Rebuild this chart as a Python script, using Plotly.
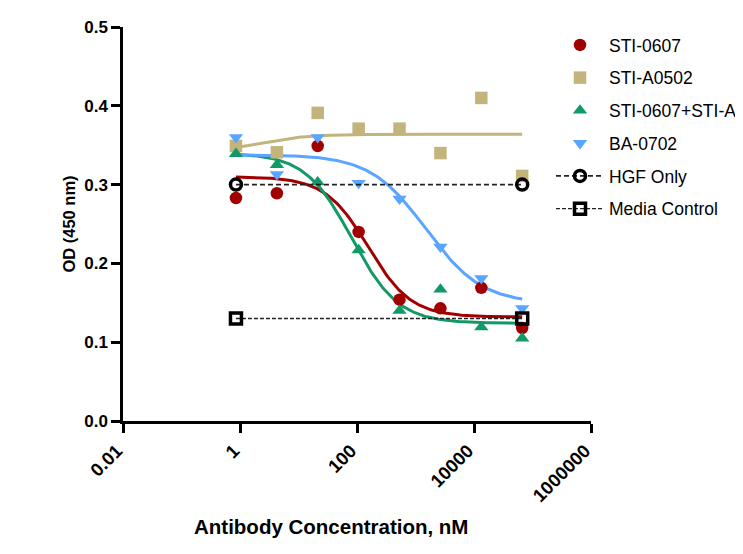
import numpy as np
import plotly.graph_objects as go

# Concentrations (nM), 5-fold dilution series
conc = [0.853, 4.27, 21.3, 106.7, 533, 2667, 13333, 66667]

sti_0607 = [0.283, 0.289, 0.349, 0.240, 0.154, 0.143, 0.169, 0.118]
sti_a0502 = [0.349, 0.341, 0.391, 0.371, 0.371, 0.340, 0.410, 0.311]
sti_combo = [0.339, 0.325, 0.303, 0.217, 0.140, 0.167, 0.119, 0.105]
ba_0702 = [0.360, 0.313, 0.360, 0.302, 0.282, 0.221, 0.181, 0.143]

hgf_conc = [0.853, 66667]
hgf_only = [0.300, 0.300]
media_conc = [0.853, 66667]
media_ctrl = [0.130, 0.130]

# 4-parameter logistic fit parameters: (top, bottom, logEC50, hill)
fit_0607 = (0.310, 0.132, 2.19, 1.18)
fit_a0502 = (0.340, 0.364, 0.30, 1.0)
fit_combo = (0.340, 0.124, 1.91, 1.09)
fit_ba = (0.338, 0.149, 3.18, 0.91)

names = ["STI-0607", "STI-A0502", "STI-0607+STI-A0502", "BA-0702"]
colors = ["#A00000", "#C2B47A", "#119A66", "#5AA5FF"]
symbols = ["circle", "square", "triangle-up", "triangle-down"]
series = [sti_0607, sti_a0502, sti_combo, ba_0702]
fits = [fit_0607, fit_a0502, fit_combo, fit_ba]


def logistic(logx, p):
    top, bottom, lec, h = p
    return bottom + (top - bottom) / (1 + 10 ** ((logx - lec) * h))


fig = go.Figure()
lx = np.linspace(np.log10(conc[0]), np.log10(conc[-1]), 200)
for name, col, sym, ys, p in zip(names, colors, symbols, series, fits):
    fig.add_trace(go.Scatter(x=10 ** lx, y=logistic(lx, p), mode="lines",
                             line=dict(color=col, width=3), showlegend=False,
                             hoverinfo="skip"))
for i, (name, col, sym, ys) in enumerate(zip(names, colors, symbols, series)):
    fig.add_trace(go.Scatter(x=conc, y=ys, mode="markers", name=name,
                             legendgroup=f"g{i}",
                             marker=dict(color=col, symbol=sym, size=12.5,
                                         line=dict(width=0))))

fig.add_trace(go.Scatter(x=hgf_conc, y=hgf_only, mode="lines+markers", name="HGF Only",
                         legendgroup="g5",
                         line=dict(color="#222222", width=1.8, dash="5px,3px"),
                         marker=dict(symbol="circle-open", size=11, color="black",
                                     line=dict(width=3.5, color="black"))))
fig.add_trace(go.Scatter(x=media_conc, y=media_ctrl, mode="lines+markers", name="Media Control",
                         legendgroup="g6",
                         line=dict(color="#222222", width=1.4, dash="4px,2px"),
                         marker=dict(symbol="square-open", size=11, color="black",
                                     line=dict(width=3.5, color="black"))))

FAM = "Liberation Sans, Arial, sans-serif"

fig.update_layout(
    width=743, height=554,
    margin=dict(l=115, r=160, t=19, b=141, autoexpand=False),
    plot_bgcolor="white", paper_bgcolor="white",
    font=dict(family=FAM, color="black"),
    legend=dict(xref="container", x=543 / 743, xanchor="left",
                yref="container", y=1 - 19 / 554, yanchor="top",
                font=dict(size=17.5, color="black"), tracegroupgap=7,
                itemwidth=48, bgcolor="rgba(0,0,0,0)"),
    xaxis=dict(type="log", range=[-2, 6], automargin=False,
               tickvals=[0.01, 1, 100, 10000, 1000000],
               ticktext=["0.01", "1", "100", "10000", "1000000"],
               tickangle=-45, ticks="outside", ticklen=9, tickwidth=2.5,
               ticklabelstandoff=0, ticklabelshift=-6,
               tickcolor="black", showline=True, linecolor="black", linewidth=2.5,
               showgrid=False, zeroline=False,
               tickfont=dict(family=FAM, size=18.5, color="black", weight="bold")),
    yaxis=dict(range=[0, 0.5], tickvals=[0, 0.1, 0.2, 0.3, 0.4, 0.5], automargin=False,
               tickformat=".1f", ticks="outside", ticklen=9, tickwidth=2.5,
               tickcolor="black", showline=True, linecolor="black", linewidth=2.5,
               showgrid=False, zeroline=False,
               tickfont=dict(family=FAM, size=17, color="black", weight="bold"),
               title=dict(text="OD (450 nm)",
                          font=dict(family=FAM, size=16.5, color="black", weight="bold"),
                          standoff=5)),
    annotations=[dict(text="Antibody Concentration, nM", xref="paper", yref="paper",
                      x=0.444, y=-0.269, xanchor="center", yanchor="middle",
                      showarrow=False,
                      font=dict(family=FAM, size=20.5, color="black", weight="bold"))],
)

fig.write_html("out.html")
